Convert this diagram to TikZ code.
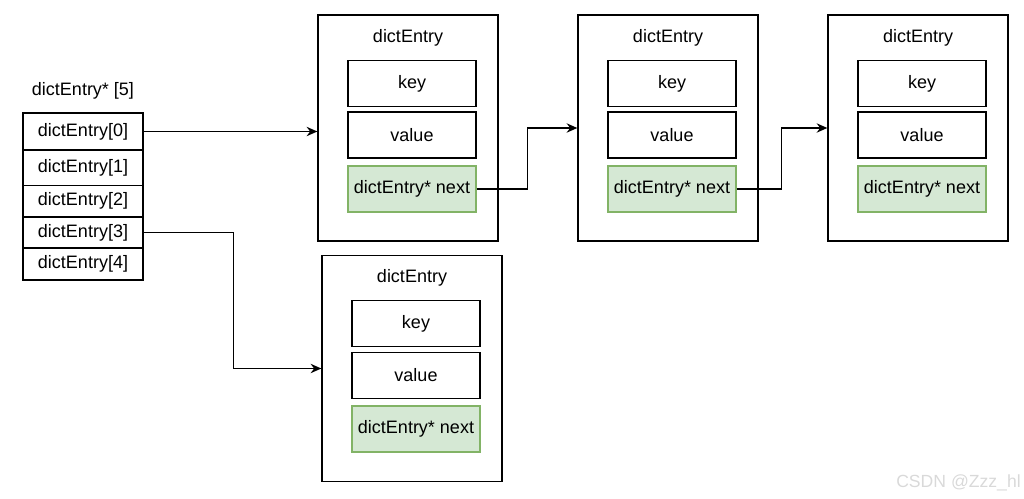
\documentclass[tikz,border=0pt]{standalone}
\usepackage{fontspec}
\setmainfont{Liberation Sans}
\usepackage{xcolor}
\definecolor{Col1}{RGB}{213,232,212}
\definecolor{Col2}{RGB}{130,179,102}
\usepackage{tikz}
\usetikzlibrary{arrows.meta}
\tikzstyle{Txt}=[font=\fontsize{13.5}{16}\selectfont,inner sep=0pt]
\tikzstyle{Box}=[draw,line width=1pt,minimum width=135pt,minimum height=169.5pt,inner sep=0pt]
\tikzstyle{Field}=[Txt,draw,line width=1pt,minimum width=96pt,minimum height=34.5pt]
\tikzstyle{NextField}=[Field,draw=Col2,fill=Col1]
\tikzstyle{Cell}=[Txt,draw,line width=1pt,minimum width=90pt]
\tikzstyle{Edge}=[draw,line width=1.1pt,-{Stealth[length=8pt,width=7pt]}]

\begin{document}
\begin{tikzpicture}[x=0.75pt,y=-0.75pt]
        \useasboundingbox (0,0) rectangle (1024,499);
        % array of pointers
        \node[Txt](arr)at(83,91){dictEntry* [5]};
        \node[Cell,minimum height=27.75pt](c0)at(83,131.5){dictEntry[0]};
        \node[Cell,minimum height=26.5pt](c1)at(83,168){dictEntry[1]};
        \node[Cell,minimum height=23.25pt](c2)at(83,201){dictEntry[2]};
        \node[Cell,minimum height=23.5pt](c3)at(83,232.5){dictEntry[3]};
        \node[Cell,minimum height=24pt](c4)at(83,264){dictEntry[4]};
        % entries
        \node[Box](e1)at(408,128){};
        \node[Box](e2)at(668,128){};
        \node[Box](e3)at(918,128){};
        \node[Box](e4)at(412,368.5){};
        \node[Txt](t1)at(408,38){dictEntry};
        \node[Txt](t2)at(668,38){dictEntry};
        \node[Txt](t3)at(918,38){dictEntry};
        \node[Txt](t4)at(412,278){dictEntry};
        \node[Field](k1)at(412,83.5){key};
        \node[Field](v1)at(412,135){value};
        \node[NextField](n1)at(412,189){dictEntry* next};
        \node[Field](k2)at(672,83.5){key};
        \node[Field](v2)at(672,135){value};
        \node[NextField](n2)at(672,189){dictEntry* next};
        \node[Field](k3)at(922,83.5){key};
        \node[Field](v3)at(922,135){value};
        \node[NextField](n3)at(922,189){dictEntry* next};
        \node[Field](k4)at(416,323.5){key};
        \node[Field](v4)at(416,375.5){value};
        \node[NextField](n4)at(416,429){dictEntry* next};
        % links
        \draw[Edge](c0.east)--(c0.east-|e1.west);
        \draw[Edge](n1.east)--++(51,0)|-(e2.west);
        \draw[Edge](n2.east)--++(45,0)|-(e3.west);
        \draw[Edge](c3.east)--++(90,0)|-(e4.west);
        \node[Txt,text=black!15,font=\fontsize{13.2}{15}\selectfont,anchor=east](wm)at(1021,483){CSDN @Zzz\_hl};
    \end{tikzpicture}
\end{document}
